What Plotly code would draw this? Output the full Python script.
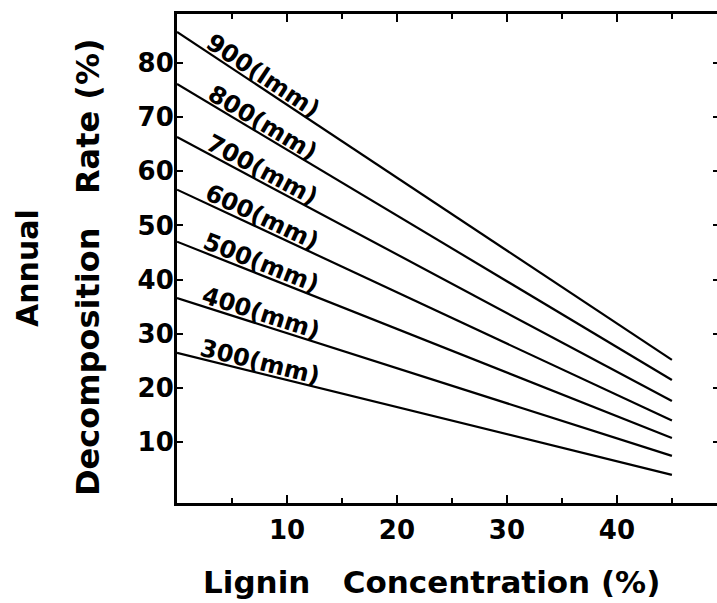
import math
import plotly.graph_objects as go

# ---- data ----
precip_labels = ["300(mm)", "400(mm)", "500(mm)", "600(mm)", "700(mm)", "800(mm)", "900(lmm)"]
lignin_x = [0, 45]
rate_start = [26.5, 36.6, 47.0, 56.6, 66.3, 76.1, 85.7]   # at lignin = 0 %
rate_end = [4.0, 7.5, 10.8, 14.0, 17.6, 21.5, 25.2]       # at lignin = 45 %
x_major = [10, 20, 30, 40]
y_major = [10, 20, 30, 40, 50, 60, 70, 80]

# ---- layout geometry ----
W, H = 717, 603
L, R, T, B = 177, 0, 14, 100
PW, PH = W - L - R, H - T - B
x_range = [0, 49.1]
y_range = [-1.2, 89.0]
sx = PW / (x_range[1] - x_range[0])
sy = PH / (y_range[1] - y_range[0])

FONT = "DejaVu Sans"


def paper(px, py):
    return (px - L) / PW, (H - B - py) / PH


fig = go.Figure()
for lab, y0, y1 in zip(precip_labels, rate_start, rate_end):
    fig.add_trace(go.Scatter(x=lignin_x, y=[y0, y1], mode="lines",
                             line=dict(color="black", width=2.2),
                             showlegend=False, hoverinfo="skip"))
# invisible trace for the right-hand tick axis
fig.add_trace(go.Scatter(x=[], y=[], yaxis="y2", showlegend=False))

annotations = []
lab_x = 7.3
d = 11
for lab, y0, y1 in zip(precip_labels, rate_start, rate_end):
    ang = math.degrees(math.atan((y0 - y1) * sy / ((lignin_x[1] - lignin_x[0]) * sx)))
    yv = y0 + (y1 - y0) * (lab_x - lignin_x[0]) / (lignin_x[1] - lignin_x[0])
    a = math.radians(ang)
    annotations.append(dict(x=lab_x, y=yv, xref="x", yref="y", text=lab,
                            showarrow=False, textangle=ang,
                            xanchor="center", yanchor="middle",
                            xshift=d * math.sin(a), yshift=d * math.cos(a),
                            font=dict(family=FONT, size=24, color="black", weight="bold")))

nb = "\u00a0"
px_, py_ = paper(431, 582)
annotations.append(dict(x=px_, y=py_, xref="paper", yref="paper",
                        text="Lignin" + nb * 3 + "Concentration" + nb + "(%)",
                        showarrow=False, xanchor="center", yanchor="middle",
                        font=dict(family=FONT, size=31, color="black", weight="bold")))
px_, py_ = paper(27, 268)
annotations.append(dict(x=px_, y=py_, xref="paper", yref="paper", text="Annual",
                        showarrow=False, textangle=-90, xanchor="center", yanchor="middle",
                        font=dict(family=FONT, size=30, color="black", weight="bold")))
px_, py_ = paper(88, 267)
annotations.append(dict(x=px_, y=py_, xref="paper", yref="paper",
                        text="Decomposition" + nb * 3 + "Rate" + nb + "(%)",
                        showarrow=False, textangle=-90, xanchor="center", yanchor="middle",
                        font=dict(family=FONT, size=32, color="black", weight="bold")))

tickfont = dict(family=FONT, size=26, color="black", weight="bold")

fig.update_layout(
    width=W, height=H,
    margin=dict(l=L, r=R, t=T, b=B, pad=0),
    paper_bgcolor="white", plot_bgcolor="white",
    showlegend=False,
    annotations=annotations,
    xaxis=dict(range=x_range, tickvals=x_major, ticks="inside", ticklen=8, tickwidth=2,
               tickcolor="black", showline=True, linewidth=3, linecolor="black",
               mirror="ticks", showgrid=False, zeroline=False, tickfont=tickfont,
               ticklabelstandoff=2,
               minor=dict(dtick=5, tick0=0, ticks="inside", ticklen=5, tickwidth=2,
                          tickcolor="black", showgrid=False)),
    yaxis=dict(range=y_range, tickvals=y_major, ticks="inside", ticklen=6, tickwidth=2,
               tickcolor="black", showline=True, linewidth=3, linecolor="black",
               mirror=False, showgrid=False, zeroline=False, tickfont=tickfont,
               ticklabelstandoff=-5),
    yaxis2=dict(range=y_range, overlaying="y", side="right", anchor="x",
                tickvals=y_major, ticks="inside", ticklen=4, tickwidth=2,
                tickcolor="black", showline=False, showgrid=False, zeroline=False,
                showticklabels=False),
)

fig.write_html("out.html")
